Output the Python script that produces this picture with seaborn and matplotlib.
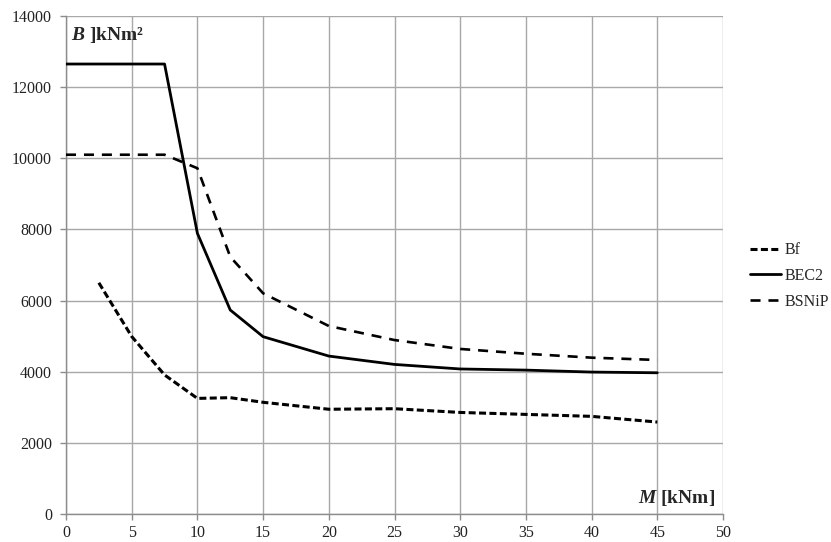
import matplotlib
matplotlib.use("Agg")
import matplotlib.pyplot as plt
import seaborn as sns
import pandas as pd

# Data
m_bf = [2.5, 5, 7.5, 10, 12.5, 15, 20, 25, 30, 35, 40, 45]
b_bf = [6500, 4990, 3910, 3250, 3270, 3140, 2945, 2960, 2855, 2800, 2745, 2585]

m_bec2 = [0, 7.5, 10, 12.5, 15, 20, 25, 30, 35, 40, 45]
b_bec2 = [12650, 12650, 7890, 5735, 4985, 4440, 4205, 4077, 4045, 3990, 3970]

m_bsnip = [0, 7.5, 10, 12.5, 15, 20, 25, 30, 35, 40, 45]
b_bsnip = [10100, 10100, 9720, 7230, 6205, 5285, 4890, 4640, 4505, 4395, 4330]

x_ticks = [0, 5, 10, 15, 20, 25, 30, 35, 40, 45, 50]
y_ticks = [0, 2000, 4000, 6000, 8000, 10000, 12000, 14000]

sns.set_theme(style="white")
plt.rcParams['font.family'] = ['Liberation Serif', 'DejaVu Serif']
plt.rcParams['mathtext.fontset'] = 'custom'
plt.rcParams['mathtext.it'] = 'Liberation Serif:italic:bold'
plt.rcParams['mathtext.rm'] = 'Liberation Serif:bold'
plt.rcParams['mathtext.bf'] = 'Liberation Serif:bold'

fig = plt.figure(figsize=(8.31, 5.42), dpi=100)
ax = fig.add_axes([66/831, 28/542, (723-66)/831, (514-16)/542])

grid_c = "#a8a8a8"
df_bf = pd.DataFrame({"M": m_bf, "B": b_bf})
df_bec2 = pd.DataFrame({"M": m_bec2, "B": b_bec2})
df_bsnip = pd.DataFrame({"M": m_bsnip, "B": b_bsnip})

sns.lineplot(data=df_bf, x="M", y="B", ax=ax, color="black", lw=2.2,
             label="Bf", zorder=3)
ax.lines[-1].set_dashes((2.3, 1.1))
sns.lineplot(data=df_bec2, x="M", y="B", ax=ax, color="black", lw=2.0,
             label="BEC2", zorder=3)
sns.lineplot(data=df_bsnip, x="M", y="B", ax=ax, color="black", lw=1.9,
             label="BSNiP", zorder=3)
ax.lines[-1].set_dashes((3.8, 3.0))

ax.set_xlim(0, 50)
ax.set_ylim(0, 14000)
ax.set_xticks(x_ticks)
ax.set_yticks(y_ticks)
ax.set_xticklabels([str(v) for v in x_ticks])
ax.set_yticklabels([str(v) for v in y_ticks])
ax.grid(True, color=grid_c, lw=1.0)
ax.set_axisbelow(True)
for s in ["top", "right"]:
    ax.spines[s].set_visible(False)
for s in ["left", "bottom"]:
    ax.spines[s].set_color("#8c8c8c")
    ax.spines[s].set_linewidth(1.0)
ax.tick_params(axis="both", which="major", direction="out", length=4,
               width=1, color="#8c8c8c", labelsize=11.5, labelcolor="#222222",
               left=True, bottom=True)
ax.tick_params(axis="y", pad=6)
ax.tick_params(axis="x", pad=4)
ax.set_xlabel("")
ax.set_ylabel("")

ax.text(0.007, 0.952, r"$B$ ]kNm²", transform=ax.transAxes,
        fontsize=14, fontweight="bold", va="baseline", ha="left")
ax.text(0.988, 0.022, r"$M$ [kNm]", transform=ax.transAxes,
        fontsize=14, fontweight="bold", va="baseline", ha="right")

ax.get_legend().remove()
handles, labels = ax.get_legend_handles_labels()
fig.legend(handles, labels, loc="center left", bbox_to_anchor=(736/831, 1 - 276/542),
           frameon=False, fontsize=11.5, handlelength=1.9, handletextpad=0.25,
           labelspacing=0.6)

fig.savefig("out.png", dpi=100, facecolor="white")
